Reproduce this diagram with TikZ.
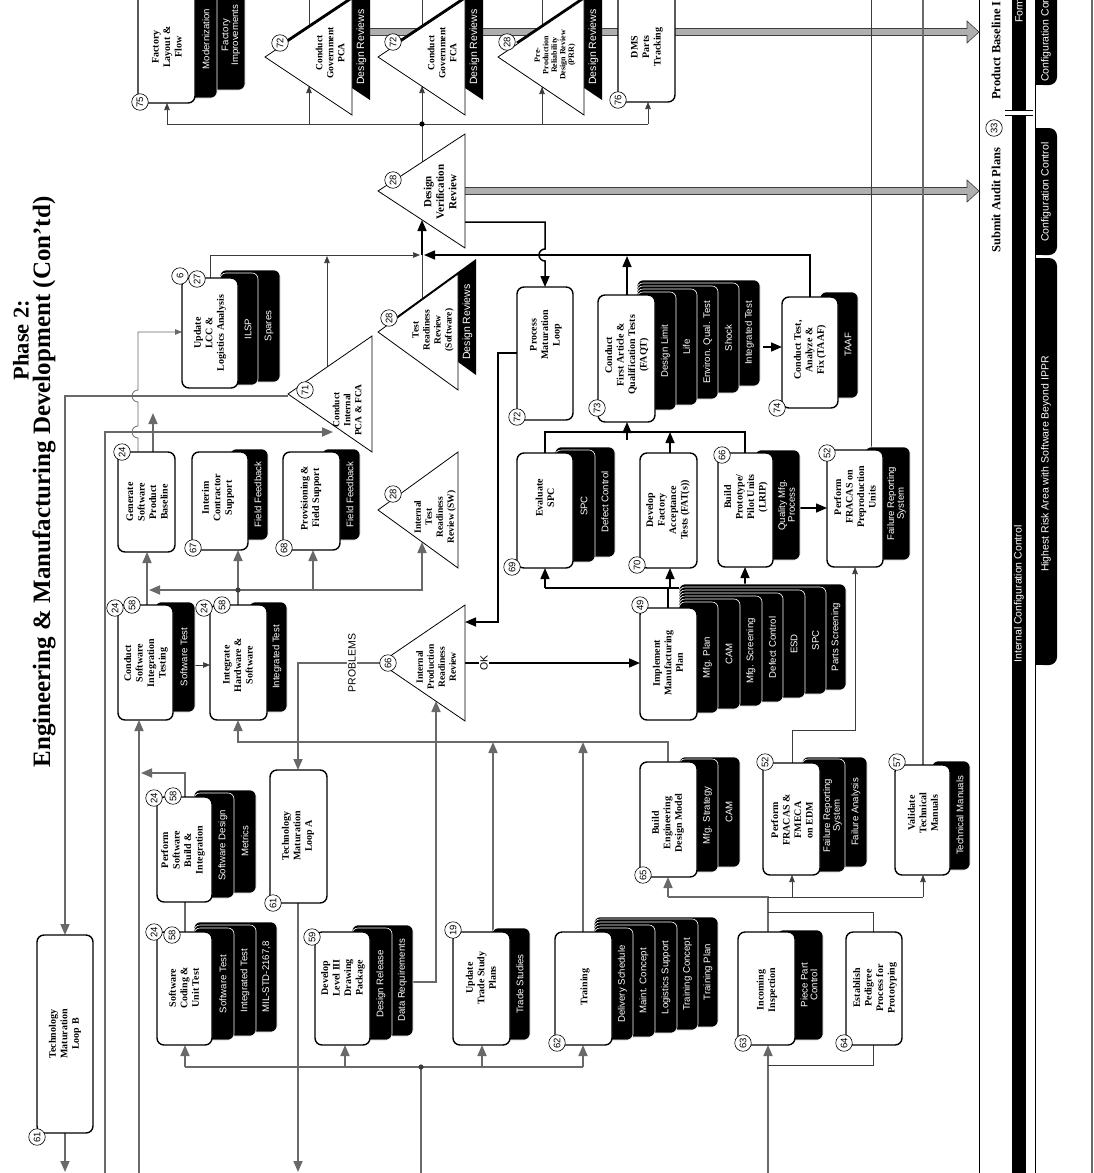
\documentclass[tikz,border=0pt]{standalone}
\usepackage{fontspec}
\setmainfont{Liberation Serif}
\setsansfont{Liberation Sans}
\usetikzlibrary{arrows.meta,calc}
\definecolor{lg}{RGB}{105,105,105}
\definecolor{dg}{RGB}{60,60,60}
\definecolor{bandc}{RGB}{175,175,175}
\newcommand\bxf{\fontsize{10}{11.5}\selectfont\bfseries}
\newcommand\tbf{\sffamily\fontsize{9.6}{9.8}\selectfont}
\newcommand\lbf{\sffamily\fontsize{10.5}{11}\selectfont}
\tikzset{
 pbox/.style={draw=black, line width=1.4pt, rounded corners=7pt, fill=white, inner sep=0pt, outer sep=0pt},
 btxt/.style={rotate=90, align=center, font=\bxf, inner sep=0pt},
 ttxt/.style={rotate=90, align=center, text=white, font=\tbf, inner sep=0pt},
 wtxt/.style={rotate=90, text=white, font=\lbf, inner sep=0pt},
 num/.style={circle, draw=black, line width=0.6pt, fill=white, inner sep=0pt, minimum size=16.5pt, font=\sffamily\fontsize{9.5}{9.5}\selectfont, rotate=90},
 gl/.style={draw=lg, line width=1.7pt},
 garr/.style={gl, -{Triangle[length=11pt,width=9pt]}},
 bl/.style={draw=black, line width=1.5pt},
 barr/.style={bl, -{Triangle[length=11pt,width=9pt]}},
 tl/.style={draw=dg, line width=0.7pt},
 tarr/.style={tl, -{Triangle[length=7pt,width=5.5pt]}},
 lbl/.style={rotate=90, font=\lbf, fill=white, inner sep=1.5pt},
}
% box: name, x1, y1, x2, y2
\newcommand\pb[5]{\node[pbox, minimum width={(#4)-(#2)}, minimum height={(#5)-(#3)}] (#1) at ({((#2)+(#4))/2},{((#3)+(#5))/2}) {};}
% tab: box right x, visible left, right, top, bottom, label
\newcommand\tb[6]{\draw[white, fill=black, line width=0.6pt, rounded corners=6pt] ({(#1)-18},#4) rectangle (#3,#5);
 \node[ttxt] at ({((#2)+(#3))/2},{((#4)+(#5))/2}) {#6};}
% triangle: name, apex x, apex y, base x, half height
\newcommand\tri[5]{\draw[fill=white, line width=0.8pt] (#2,#3) -- (#4,{(#3)-(#5)}) -- (#4,{(#3)+(#5)}) -- cycle;
 \coordinate (#1) at ({((#2)+(#4))/2},#3);}
% shadow tab of a review triangle: apex x, apex y, base x, half
\newcommand\trish[4]{\fill[black] ({(#1)+18},{(#2)-15}) -- ({(#3)+18},{(#2)-(#4)-15}) -- ({(#3)+18},{(#2)+(#4)-15}) -- cycle;
 \node[wtxt] at ({(#3)+9.5},{(#2)-10}) {Design Reviews};}
\begin{document}
\begin{tikzpicture}[x=1pt,y=-1pt]
\path[use as bounding box, fill=white] (0,0) rectangle (1094,1173);
\clip (0,0) rectangle (1094,1173);

% ---------- title ----------
\node[rotate=90, font=\fontsize{22.5}{24}\selectfont\bfseries, inner sep=0pt] (title1) at (21,340) {Phase 2:};
\node[rotate=90, font=\fontsize{25}{27}\selectfont\bfseries, inner sep=0pt] (title2) at (44,482) {Engineering \& Manufacturing Development (Con'td)};

% ---------- right panel ----------
\draw[black, line width=0.8pt] (979,0) -- (979,1173);
\draw[lg, line width=1.3pt] (1092,0) -- (1092,1173);
\draw[black, line width=0.8pt] (1035,0) -- (1035,1173);
\fill[black] (1012,0) rectangle (1026,1173);
\fill[white] (1011,110) rectangle (1027,115);
\draw[line width=0.7pt] (1005,110) -- (1033,110) (1005,115) -- (1033,115);
\node[wtxt, anchor=west] (formtxt) at (1019,23) {Form};
\node[wtxt] (ict) at (1019,594) {Internal Configuration Control};
\fill[black, rounded corners=8pt] (1035,-20) rectangle (1057,85);
\fill[black] (1035,-20) rectangle (1046,85);
\fill[black, rounded corners=8pt] (1035,128) rectangle (1057,255);
\fill[black] (1035,128) rectangle (1046,255);
\fill[black, rounded corners=8pt] (1035,258) rectangle (1057,665);
\fill[black] (1035,258) rectangle (1046,665);
\node[wtxt, anchor=west] (cc1) at (1046,82) {Configuration Control};
\node[wtxt] (cc2) at (1046,192) {Configuration Control};
\node[wtxt] (hra) at (1046,464) {Highest Risk Area with Software Beyond IPPR};
\node[rotate=90, anchor=west, font=\fontsize{12.5}{13}\selectfont\bfseries, inner sep=0pt] (pbl) at (996,100) {Product Baseline I};
\node[rotate=90, anchor=west, font=\fontsize{12.5}{13}\selectfont\bfseries, inner sep=0pt] (sap) at (996,253) {Submit Audit Plans};
\node[num] (n33) at (994,128) {33};

% ---------- gray band arrows ----------
\draw[dg, fill=bandc, line width=0.6pt] (360,28.5) -- (967,28.5) -- (967,21) -- (979,32) -- (967,43) -- (967,35.5) -- (360,35.5) -- cycle;
\draw[dg, fill=bandc, line width=0.6pt] (460,187.5) -- (967,187.5) -- (967,180) -- (979,191) -- (967,202) -- (967,194.5) -- (460,194.5) -- cycle;

% ---------- gray connectors ----------
\draw[garr] (288,396) -- (65,396) -- (65,935);
\draw[garr] (65,1133) -- (65,1172);
\draw[garr] (105,1173) -- (105,432) -- (333,432);
\draw[garr] (139,1173) -- (139,720);
\draw[garr] (185,797) -- (185,773) -- (141,773);
\draw[gl] (185,932) -- (185,902);
\draw[garr] (147,605) -- (147,552);
\draw[garr] (153,452) -- (153,413);
\draw[gl] (238,605) -- (238,590);
\draw[garr] (238,590) -- (149,590);
\draw[garr] (238,590) -- (238,550);
\draw[garr] (238,590) -- (422,590) -- (422,542);
\draw[garr] (313,590) -- (313,550);
\fill[dg] (238,590) circle (2.6);
\draw[garr] (668,762) -- (668,742) -- (238,742) -- (238,720);
\draw[garr] (413,982) -- (436,982) -- (436,701);
\draw[garr] (493,932) -- (493,742);
\draw[garr] (583,932) -- (583,742);
\draw[gl] (185,1067) -- (583,1067);
\draw[garr] (185,1067) -- (185,1045);
\draw[garr] (345,1067) -- (345,1045);
\draw[garr] (482,1067) -- (482,1045);
\draw[garr] (583,1067) -- (583,1045);
\draw[gl] (421,1173) -- (421,1067);
\fill[dg] (421,1067) circle (2.6);
\draw[garr] (380,663) -- (298,663) -- (298,770);
\node[lbl] (problems) at (352,663) {PROBLEMS};
\draw[garr] (298,903) -- (298,1172);
\draw[garr] (768,1173) -- (768,1045);
\draw[gl] (768,932) -- (768,897) -- (668,897);
\draw[garr] (668,897) -- (668,877);
\draw[lg, line width=1.3pt] (923,765) -- (923,0);
\draw[lg, line width=0.8pt, -{Triangle[length=7pt,width=5.5pt]}] (138,452) -- (138,438) arc[start angle=90,end angle=270,radius=6] -- (138,402) arc[start angle=90,end angle=270,radius=6] -- (138,332) -- (182,332);

% ---------- thin black connectors ----------
\draw[tl] (768,897) -- (923,897);
\draw[tarr] (792,897) -- (792,875);
\draw[tarr] (923,897) -- (923,875);
\draw[tl] (768,912) -- (873,912) -- (873,932);
\draw[tl] (873,1045) -- (873,1065) -- (768,1065);
\draw[tl] (871,450) -- (871,0);
\draw[tarr] (792,763) -- (792,730) -- (855,730) -- (855,567);
\draw[tarr] (195,665) -- (210,665);
\draw[tl] (167,124) -- (648,124);
\draw[tarr] (167,124) -- (167,103);
\draw[tl] (309,0) -- (309,124);
\draw[tarr] (309,124) -- (309,86);
\draw[tl] (422,0) -- (422,124);
\draw[tarr] (422,124) -- (422,86);
\draw[tl] (542,0) -- (542,124);
\draw[tarr] (542,124) -- (542,87);
\draw[tarr] (648,124) -- (648,102);
\draw[tl] (422,162) -- (422,124);
\fill (422,124) circle (2.6);
\draw[tl] (422,300) -- (422,255);
\draw[tarr] (210,278) -- (210,255) -- (420,255);
\draw[tarr] (327,367) -- (327,256);

% ---------- black thick connectors ----------
\draw[barr] (810,297) -- (810,255) -- (424,255);
\draw[barr] (627,295) -- (627,256);
\draw[barr] (422,255) -- (422,220);
\draw[barr] (465,222) -- (545,222) -- (545,249) arc[start angle=270,end angle=90,radius=6] -- (545,287);
\draw[barr] (517,353) -- (498,353) -- (498,622) -- (465,622);
\draw[barr] (465,663) -- (640,663);
\node[lbl] (ok) at (484,663) {OK};
\draw[bl] (668,608) -- (668,588);
\draw[bl] (545,588) -- (745,588);
\draw[barr] (545,588) -- (545,568);
\draw[barr] (670,588) -- (670,568);
\draw[barr] (745,588) -- (745,567);
\draw[bl] (545,453) -- (545,432) -- (745,432) -- (745,453);
\draw[barr] (627,440) -- (627,422);
\draw[barr] (670,453) -- (670,432);
\draw[barr] (763,347) -- (782,347);
\draw[barr] (800,508) -- (827,508);

% ---------- boxes ----------
% 75
\tb{195}{217}{245}{-20}{90}{Factory\\Improvements}
\tb{195}{195}{217}{-20}{98}{Modernization}
\pb{b75}{138}{-20}{195}{103}
\node[btxt] at (167,47) {Factory\\Layout \&\\Flow};
\node[num] at (140,102) {75};
% 76
\pb{b76}{618}{-20}{675}{102}
\node[btxt] at (647,47) {DMS\\Parts\\Tracking};
\node[num] at (618,100) {76};
% LCC
\tb{238}{258}{280}{270}{382}{Spares}
\tb{238}{238}{258}{273}{385}{ILSP}
\pb{bLCC}{182}{278}{238}{388}
\node[btxt] at (210,333) {Update\\LCC \&\\Logistics Analysis};
\node[num] at (197,279) {27};
\node[num] at (180,276) {6};
% GSPB
\pb{bGSPB}{118}{452}{175}{552}
\node[btxt] at (147,502) {Generate\\Software\\Product\\Baseline};
\node[num] at (122,452) {24};
% 67
\tb{248}{248}{268}{449}{540}{Field Feedback}
\pb{b67}{192}{452}{248}{550}
\node[btxt] at (218,498) {Interim\\Contractor\\Support};
\node[num] at (193,548) {67};
% 68
\tb{340}{340}{360}{449}{540}{Field Feedback}
\pb{b68}{283}{452}{340}{550}
\node[btxt] at (311,498) {Provisioning \&\\Field Support};
\node[num] at (284,548) {68};
% CSIT
\tb{173}{173}{195}{602}{712}{Software Test}
\pb{bCSIT}{118}{605}{173}{720}
\node[btxt] at (146,663) {Conduct\\Software\\Integration\\Testing};
\node[num] at (115,608) {24};
\node[num] at (132,605) {58};
% IHS
\tb{267}{267}{287}{602}{712}{Integrated Test}
\pb{bIHS}{210}{605}{267}{720}
\node[btxt] at (238,665) {Integrate\\Hardware \&\\Software};
\node[num] at (204,608) {24};
\node[num] at (222,605) {58};
% PSBI
\tb{212}{234}{256}{790}{893}{Metrics}
\tb{212}{212}{234}{793}{898}{Software Design}
\pb{bPSBI}{157}{797}{212}{902}
\node[btxt] at (183,850) {Perform\\Software\\Build \&\\Integration};
\node[num] at (154,798) {24};
\node[num] at (173,796) {58};
% Loop A
\pb{bLA}{270}{770}{327}{903}
\node[btxt] at (298,836) {Technology\\Maturation\\Loop A};
\node[num] at (273,903) {61};
% Loop B
\pb{bLB}{37}{935}{93}{1133}
\node[btxt] at (65,1034) {Technology\\Maturation\\Loop B};
\node[num] at (37,1137) {61};
% SCUT
\tb{212}{256}{277}{922}{1032}{MIL-STD-2167,8}
\tb{212}{234}{256}{925}{1036}{Integrated Test}
\tb{212}{212}{234}{928}{1040}{Software Test}
\pb{bSCUT}{157}{932}{212}{1045}
\node[btxt] at (184,988) {Software\\Coding \&\\Unit Test};
\node[num] at (154,932) {24};
\node[num] at (172,935) {58};
% 59
\tb{370}{392}{413}{925}{1036}{Data Requirements}
\tb{370}{370}{392}{928}{1040}{Design Release}
\pb{b59}{315}{932}{370}{1045}
\node[btxt] at (343,978) {Develop\\Level III\\Drawing\\Package};
\node[num] at (312,937) {59};
% 19
\tb{510}{510}{530}{928}{1040}{Trade Studies}
\pb{b19}{453}{932}{510}{1045}
\node[btxt] at (481,978) {Update\\Trade Study\\Plans};
\node[num] at (453,930) {19};
% 62
\tb{612}{698}{718}{917}{1027}{Training Plan}
\tb{612}{677}{698}{919}{1030}{Training Concept}
\tb{612}{655}{677}{922}{1033}{Logistics Support}
\tb{612}{633}{655}{925}{1037}{Maint. Concept}
\tb{612}{612}{633}{928}{1040}{Delivery Schedule}
\pb{b62}{555}{932}{612}{1045}
\node[btxt] at (585,987) {Training};
\node[num] at (557,1043) {62};
% 63
\tb{795}{795}{823}{930}{1040}{Piece Part\\Control}
\pb{b63}{738}{932}{795}{1045}
\node[btxt] at (767,990) {Incoming\\Inspection};
\node[num] at (743,1043) {63};
% 64
\pb{b64}{846}{932}{902}{1045}
\node[btxt] at (875,988) {Establish\\Pedigree\\Process for\\Prototyping};
\node[num] at (844,1043) {64};
% 65
\tb{697}{718}{740}{757}{867}{CAM}
\tb{697}{697}{718}{759}{872}{Mfg. Strategy}
\pb{b65}{640}{762}{697}{877}
\node[btxt] at (668,823) {Build\\Engineering\\Design Model};
\node[num] at (643,875) {65};
% 52a
\tb{820}{845}{867}{757}{867}{Failure Analysis}
\tb{820}{820}{845}{759}{872}{Failure Reporting\\System}
\pb{b52a}{763}{763}{820}{875}
\node[btxt] at (792,820) {Perform\\FRACAS \&\\FMECA\\on EDM};
\node[num] at (765,762) {52};
% 57
\tb{950}{950}{970}{761}{870}{Technical Manuals}
\pb{b57}{895}{765}{950}{875}
\node[btxt] at (923,813) {Validate\\Technical\\Manuals};
\node[num] at (897,762) {57};
% 49
\tb{697}{826}{846}{584}{690}{Parts Screening}
\tb{697}{805}{826}{587}{694}{SPC}
\tb{697}{783}{805}{590}{698}{ESD}
\tb{697}{762}{783}{593}{702}{Defect Control}
\tb{697}{740}{762}{596}{706}{Mfg. Screening}
\tb{697}{718}{740}{599}{709}{CAM}
\tb{697}{697}{718}{602}{713}{Mfg. Plan}
\pb{b49}{640}{608}{697}{720}
\node[btxt] at (668,663) {Implement\\Manufacturing\\Plan};
\node[num] at (640,605) {49};
% 69
\tb{573}{595}{615}{447}{557}{Defect Control}
\tb{573}{573}{595}{450}{562}{SPC}
\pb{b69}{517}{453}{573}{568}
\node[btxt] at (545,498) {Evaluate\\SPC};
\node[num] at (512,567) {69};
% 70
\pb{b70}{640}{453}{697}{568}
\node[btxt] at (668,510) {Develop\\Factory\\Acceptance\\Tests (FAT(s))};
\node[num] at (637,565) {70};
% 66 build prototype
\tb{773}{773}{800}{450}{560}{Quality Mfg.\\Process}
\pb{b66p}{718}{453}{773}{567}
\node[btxt] at (746,497) {Build\\Prototype/\\Pilot Units\\(LRIP)};
\node[num] at (722,455) {66};
% 52b
\tb{883}{883}{910}{447}{560}{Failure Reporting\\System}
\pb{b52b}{827}{450}{883}{567}
\node[btxt] at (855,497) {Perform\\FRACAS on\\Preproduction\\Units};
\node[num] at (827,453) {52};
% PML
\pb{bPML}{517}{287}{573}{420}
\node[btxt] at (546,335) {Process\\Maturation\\Loop};
\node[num] at (517,417) {72};
% 73
\tb{655}{739}{760}{280}{386}{Integrated Test}
\tb{655}{718}{739}{283}{393}{Shock}
\tb{655}{697}{718}{286}{399}{Environ. Qual. Test}
\tb{655}{676}{697}{289}{405}{Life}
\tb{655}{655}{676}{292}{410}{Design Limit}
\pb{b73}{598}{295}{655}{422}
\node[btxt] at (627,355) {Conduct\\First Article \&\\Qualification Tests\\(FAQT)};
\node[num] at (597,408) {73};
% 74
\tb{838}{838}{858}{292}{398}{TAAF}
\pb{b74}{782}{297}{838}{408}
\node[btxt] at (810,350) {Conduct Test,\\Analyze \&\\Fix (TAAF)};
\node[num] at (777,408) {74};

% ---------- triangles ----------
\trish{265}{57}{352}{58}
\tri{tPCA}{265}{57}{352}{58}
\node[btxt, font=\fontsize{9.5}{11}\selectfont\bfseries] at (330,53) {Conduct\\Government\\PCA};
\node[num] at (280,43) {72};
\trish{378}{57}{465}{58}
\tri{tFCA}{378}{57}{465}{58}
\node[btxt, font=\fontsize{9.5}{11}\selectfont\bfseries] at (442,53) {Conduct\\Government\\FCA};
\node[num] at (393,42) {72};
\trish{498}{57}{584}{58}
\tri{tPRR}{498}{57}{584}{58}
\node[btxt, font=\fontsize{8}{8.5}\selectfont\bfseries] at (555,55) {Pre-\\Production\\Reliability\\Design Review\\(PRR)};
\node[num] at (507,42) {28};
\tri{tDVR}{378}{191}{465}{57}
\node[btxt, font=\fontsize{11}{12.5}\selectfont\bfseries] at (440,192) {Design\\Verification\\Review};
\node[num] at (393,180) {28};
\trish{378}{332}{458}{58}
\tri{tTRR}{378}{332}{458}{58}
\node[btxt, font=\fontsize{9.5}{11}\selectfont\bfseries] at (433,330) {Test\\Readiness\\Review\\(Software)};
\node[num] at (389,318) {28};
\tri{tITRR}{378}{510}{458}{58}
\node[btxt, font=\fontsize{9.5}{11}\selectfont\bfseries] at (435,517) {Internal\\Test\\Readiness\\Review (SW)};
\node[num] at (393,494) {28};
\tri{t71}{288}{394}{372}{58}
\node[btxt, font=\fontsize{9.5}{11}\selectfont\bfseries] at (347,410) {Conduct\\Internal\\PCA \& FCA};
\node[num] at (305,390) {71};
\tri{t66}{380}{663}{465}{58}
\node[btxt, font=\fontsize{9.5}{11}\selectfont\bfseries] at (436,667) {Internal\\Production\\Readiness\\Review};
\node[num] at (388,663) {66};
\end{tikzpicture}
\end{document}
